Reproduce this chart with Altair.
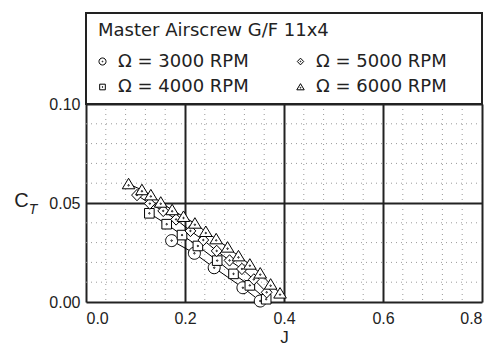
import altair as alt
import pandas as pd

legend_title = "Master Airscrew G/F 11x4"
rpm_labels = ["Ω = 3000 RPM", "Ω = 4000 RPM", "Ω = 5000 RPM", "Ω = 6000 RPM"]

j_3000 = [0.173, 0.219, 0.259, 0.317, 0.352]
ct_3000 = [0.0310, 0.0246, 0.0173, 0.0072, 0.0005]

j_4000 = [0.128, 0.163, 0.194, 0.226, 0.265, 0.298, 0.331, 0.364]
ct_4000 = [0.0448, 0.0393, 0.0338, 0.0283, 0.0209, 0.0142, 0.0084, 0.0014]

j_5000 = [0.103, 0.129, 0.156, 0.182, 0.211, 0.237, 0.264, 0.290, 0.315, 0.339, 0.365]
ct_5000 = [0.0540, 0.0497, 0.0460, 0.0417, 0.0359, 0.0313, 0.0258, 0.0210, 0.0167, 0.0114, 0.0049]

j_6000 = [0.086, 0.113, 0.131, 0.151, 0.174, 0.197, 0.220, 0.242, 0.263, 0.286,
          0.308, 0.331, 0.352, 0.373, 0.392]
ct_6000 = [0.0596, 0.0566, 0.0540, 0.0503, 0.0465, 0.0431, 0.0397, 0.0355, 0.0318, 0.0276,
           0.0232, 0.0190, 0.0145, 0.0089, 0.0044]

x_ticks = [0.0, 0.2, 0.4, 0.6, 0.8]
y_ticks = [0.0, 0.05, 0.10]
minor_x = [0.04, 0.08, 0.12, 0.16, 0.24, 0.28, 0.32, 0.36, 0.44, 0.48, 0.52, 0.56,
           0.64, 0.68, 0.72, 0.76]
minor_y = [0.01, 0.02, 0.03, 0.04, 0.06, 0.07, 0.08, 0.09]

rows = []
for lab, js, cts in zip(rpm_labels, [j_3000, j_4000, j_5000, j_6000],
                        [ct_3000, ct_4000, ct_5000, ct_6000]):
    for j, c in zip(js, cts):
        rows.append({"series": lab, "J": j, "CT": c})
df = pd.DataFrame(rows)

dot = "M-0.12,0A0.12,0.12 0 1,1 0.12,0A0.12,0.12 0 1,1 -0.12,0Z"
circle_p = "M-1,0A1,1 0 1,1 1,0A1,1 0 1,1 -1,0Z " + dot
square_p = "M-0.8,-0.8L0.8,-0.8L0.8,0.8L-0.8,0.8Z " + dot
diamond_p = "M0,-0.95L0.9,0L0,0.95L-0.9,0Z " + dot
tri_dot = "M-0.12,0.22A0.12,0.12 0 1,1 0.12,0.22A0.12,0.12 0 1,1 -0.12,0.22Z"
triangle_p = "M0,-0.95L1.05,0.8L-1.05,0.8Z " + tri_dot
shape_range = [circle_p, square_p, diamond_p, triangle_p]

FONT = "Liberation Sans"
LFONT = "DejaVu Sans"
TXT = "#222222"

xscale = alt.Scale(domain=[0, 0.8], nice=False)
yscale = alt.Scale(domain=[0, 0.1], nice=False)
shape_enc = alt.Shape("series:N", scale=alt.Scale(domain=rpm_labels, range=shape_range),
                      legend=None)

minor_v = alt.Chart(pd.DataFrame({"mx": minor_x})).mark_rule(
    color="#9a9a9a", strokeDash=[1, 4], strokeWidth=1
).encode(x=alt.X("mx:Q", scale=xscale))

minor_h = alt.Chart(pd.DataFrame({"my": minor_y})).mark_rule(
    color="#9a9a9a", strokeDash=[1, 4], strokeWidth=1
).encode(y=alt.Y("my:Q", scale=yscale))

base = alt.Chart(df)

lines = base.mark_line(color="black", strokeWidth=1).encode(
    x=alt.X("J:Q", scale=xscale,
            axis=alt.Axis(values=x_ticks, format=".1f", title="J", grid=True,
                          gridColor=TXT, gridWidth=2, ticks=False, domain=False,
                          labelFontSize=16, labelPadding=8, labelColor=TXT,
                          titleFontSize=17, titleFontWeight="normal", titleColor=TXT,
                          titlePadding=3, labelFont=FONT, titleFont=FONT)),
    y=alt.Y("CT:Q", scale=yscale,
            axis=alt.Axis(values=y_ticks, format=".2f", title="C", grid=True,
                          gridColor=TXT, gridWidth=2, ticks=False, domain=False,
                          labelFontSize=16, labelPadding=6, labelColor=TXT,
                          titleFontSize=20, titleFontWeight="normal", titleColor=TXT,
                          titleAngle=0, titleAlign="center", titleBaseline="middle",
                          titleX=-65, titleY=96, labelFont=FONT, titleFont=FONT)),
    detail="series:N",
    order="J:Q",
)

points = base.mark_point(filled=False, fill="white", stroke="black", strokeWidth=1,
                         size=144, opacity=1).encode(
    x=alt.X("J:Q", scale=xscale),
    y=alt.Y("CT:Q", scale=yscale),
    shape=shape_enc,
)

# ---- legend box drawn by hand (layout positions in pixels) ----
leg_df = pd.DataFrame({"series": rpm_labels})
one = pd.DataFrame({"t": [legend_title]})

frame = alt.Chart(one).mark_rect(fill="white", fillOpacity=0, stroke=TXT,
                                 strokeWidth=2).encode(
    x=alt.value(0), x2=alt.value(396), y=alt.value(-91), y2=alt.value(0))

leg_title = alt.Chart(one).mark_text(align="left", baseline="middle", fontSize=18,
                                     font=LFONT, color=TXT).encode(
    x=alt.value(12), y=alt.value(-73), text="t:N")

legend_layers = []
for i, lab in enumerate(rpm_labels):
    col, row = divmod(i, 2)
    sx = 16.5 + col * 198
    sy = -42.5 + row * 25.5
    sub = alt.Chart(leg_df).transform_filter(alt.datum.series == lab)
    legend_layers.append(
        sub.mark_point(filled=False, fill="white", stroke="black", strokeWidth=1,
                       size=50, opacity=1).encode(
            x=alt.value(sx), y=alt.value(sy), shape=shape_enc))
    legend_layers.append(
        sub.mark_text(align="left", baseline="middle", fontSize=18, font=LFONT,
                      color=TXT).encode(
            x=alt.value(sx + 15.5), y=alt.value(sy), text="series:N"))

sub_t = alt.Chart(one).mark_text(text="T", fontStyle="italic", fontSize=14,
                                 font=FONT, color=TXT).encode(
    x=alt.value(-53), y=alt.value(106))

chart = alt.layer(minor_v, minor_h, lines, points, frame, leg_title, *legend_layers,
                  sub_t).properties(
    width=396, height=198,
    autosize=alt.AutoSizeParams(type="none"),
    padding={"left": 78, "top": 96, "right": 3, "bottom": 44},
).configure_view(stroke=TXT, strokeWidth=2).configure(font=FONT)

chart.save("out.html", embed_options={"renderer": "svg", "actions": False})
